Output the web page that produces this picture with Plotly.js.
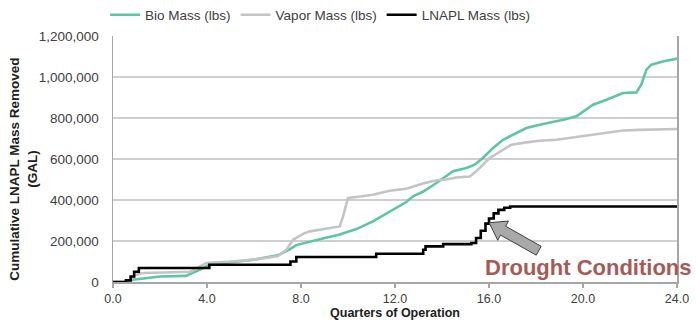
<!DOCTYPE html>
<html>
<head>
<meta charset="utf-8">
<script src="https://cdn.plot.ly/plotly-3.0.1.min.js"></script>
<style>html,body{margin:0;padding:0;background:#fff;}#chart{width:696px;height:320px;}</style>
</head>
<body>
<div id="chart"></div>
<script>
// Bio Mass (lbs)
const bioQuarters = [0, 0.5, 0.84, 1.5, 2, 3.1, 3.7, 4.1, 5.5, 6, 7, 7.5, 7.8, 8.37, 8.8, 9.65, 10.36, 11.06, 11.77, 12.48, 12.77, 13.19, 13.76, 14.47, 15.04, 15.39, 15.74, 16.17, 16.6, 17.02, 17.59, 18.16, 18.87, 19.3, 19.72, 20.0, 20.43, 21.0, 21.7, 22.27, 22.48, 22.7, 22.91, 23.4, 24];
const bioMass = [0, 0, 11000, 20000, 27000, 30000, 60000, 84000, 100000, 109000, 130000, 158000, 180000, 198000, 208000, 232000, 258000, 296000, 344000, 390000, 418000, 440000, 483000, 540000, 556000, 572000, 605000, 654000, 694000, 718000, 751000, 767000, 783000, 795000, 808000, 832000, 865000, 889000, 922000, 925000, 962000, 1036000, 1060000, 1076000, 1090000];

// Vapor Mass (lbs)
const vaporQuarters = [0, 0.6, 1.0, 1.3, 3.3, 3.97, 5, 6, 7, 7.4, 7.66, 8.09, 8.37, 9.65, 9.79, 10.0, 10.36, 11.06, 11.77, 12.48, 13.19, 13.76, 14.19, 14.6, 15.18, 15.46, 16.03, 16.46, 16.95, 17.59, 18.16, 18.87, 19.57, 20.29, 21.0, 21.7, 22.4, 24];
const vaporMass = [0, 0, 36000, 44000, 50000, 93000, 100000, 109000, 125000, 160000, 206000, 235000, 247000, 271000, 320000, 410000, 415000, 426000, 445000, 455000, 480000, 496000, 500000, 510000, 515000, 540000, 605000, 637000, 670000, 681000, 689000, 694000, 705000, 718000, 730000, 739000, 742000, 746000];

// LNAPL Mass (lbs)
const lnaplQuarters = [0, 0.55, 0.75, 0.9, 1.1, 4.1, 7.55, 7.8, 11.2, 13.2, 13.3, 14.05, 15.25, 15.45, 15.65, 15.85, 16.0, 16.2, 16.4, 16.65, 16.9, 24];
const lnaplMass = [0, 8000, 27000, 50000, 68000, 84000, 100000, 122000, 138000, 157000, 174000, 185000, 190000, 215000, 250000, 285000, 310000, 335000, 352000, 362000, 368000, 368000];

const seriesNames = ['Bio Mass (lbs)', 'Vapor Mass (lbs)', 'LNAPL Mass (lbs)'];
const xTicks = [0, 4, 8, 12, 16, 20, 24];
const yTicks = [0, 200000, 400000, 600000, 800000, 1000000, 1200000];
const xTitle = 'Quarters of Operation';
const yTitle = 'Cumulative LNAPL Mass Removed<br>(GAL)';
const annotationText = 'Drought Conditions';
const arrowTip = [16.01, 289000];

const FONT = '"Liberation Sans", Arial, sans-serif';

const traces = [
  {x: bioQuarters, y: bioMass, name: seriesNames[0], type: 'scatter', mode: 'lines',
   line: {color: '#5cc6a0', width: 2.6}},
  {x: vaporQuarters, y: vaporMass, name: seriesNames[1], type: 'scatter', mode: 'lines',
   line: {color: '#c4c4c4', width: 2.6}},
  {x: lnaplQuarters, y: lnaplMass, name: seriesNames[2], type: 'scatter', mode: 'lines',
   line: {color: '#000000', width: 2.6, shape: 'hv'}}
];

// block arrow (decoration) built relative to tip in data units
const t = arrowTip;
const arrowPts = [
  [t[0], t[1]],
  [t[0] + 0.82, t[1] + 8500],
  [t[0] + 0.70, t[1] - 17000],
  [t[0] + 2.21, t[1] - 115000],
  [t[0] + 2.00, t[1] - 158000],
  [t[0] + 0.48, t[1] - 60000],
  [t[0] + 0.36, t[1] - 85500]
];
const arrowPath = 'M ' + arrowPts.map(p => p[0] + ',' + p[1]).join(' L ') + ' Z';

const layout = {
  width: 696, height: 320,
  margin: {l: 113, r: 19, t: 36, b: 38},
  paper_bgcolor: '#ffffff', plot_bgcolor: '#ffffff',
  font: {family: FONT, size: 13.5, color: '#404040'},
  showlegend: true,
  legend: {orientation: 'h', xref: 'container', x: 0.151, xanchor: 'left',
           yref: 'container', y: 0.953, yanchor: 'middle',
           font: {family: FONT, size: 13.5, color: '#404040'}, bgcolor: 'rgba(0,0,0,0)'},
  xaxis: {
    range: [0, 24], tickvals: xTicks, tickformat: '.1f',
    showgrid: false, zeroline: false,
    showline: true, linecolor: '#a6a6a6', linewidth: 1.5,
    ticks: 'outside', ticklen: 4, tickcolor: '#a6a6a6', tickwidth: 1.5,
    tickfont: {family: FONT, size: 12.5, color: '#404040'},
    title: {text: '<b>' + xTitle + '</b>', font: {family: FONT, size: 12.5, color: '#202020'}},
    automargin: false
  },
  yaxis: {
    range: [0, 1200000], tickvals: yTicks, tickformat: ',',
    showgrid: true, gridcolor: '#cfcfcf', gridwidth: 1.5, zeroline: false,
    showline: true, mirror: true, linecolor: '#a6a6a6', linewidth: 1.5,
    ticks: '', ticklabelstandoff: 10,
    tickfont: {family: FONT, size: 13.5, color: '#404040'},
    automargin: false
  },
  shapes: [
    {type: 'path', xref: 'x', yref: 'y', path: arrowPath,
     fillcolor: '#a9a9a9', line: {color: '#404040', width: 1}, layer: 'above'}
  ],
  annotations: [
    {text: '<b>' + yTitle + '</b>', xref: 'paper', yref: 'paper', x: -0.158, y: 0.46,
     xanchor: 'center', yanchor: 'middle', textangle: -90, showarrow: false,
     font: {family: FONT, size: 13.5, color: '#202020'}},
    {text: '<b>' + annotationText + '</b>', xref: 'paper', yref: 'paper',
     x: 1.03, y: 0.06, xanchor: 'right', yanchor: 'middle', showarrow: false,
     font: {family: FONT, size: 22, color: '#a65a55'}}
  ]
};

Plotly.newPlot('chart', traces, layout, {displayModeBar: false, staticPlot: true});
</script>
</body>
</html>
